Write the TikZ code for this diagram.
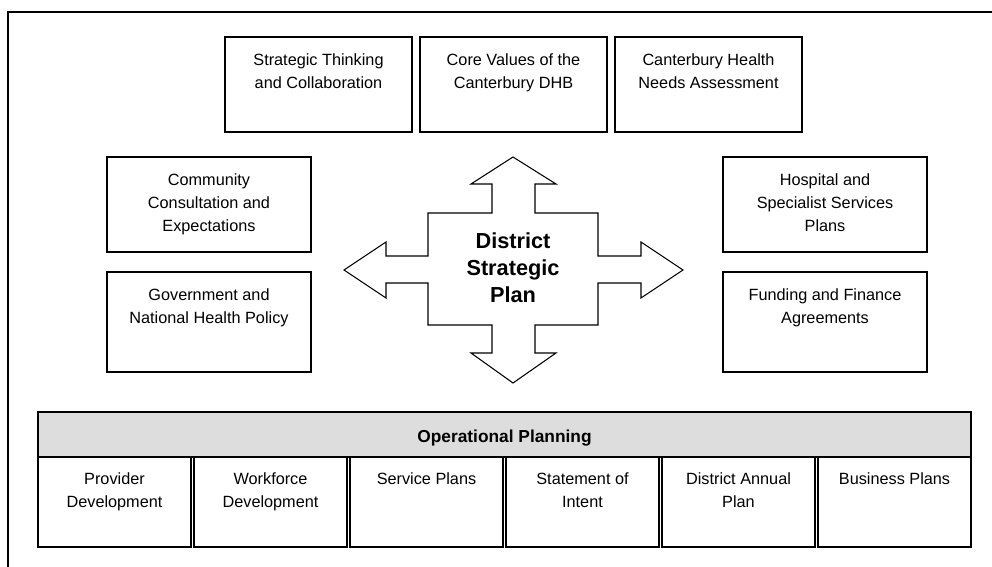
\documentclass[tikz,border=0pt]{standalone}
\usepackage{fontspec}
\setmainfont{Liberation Sans}
\usepackage{tikz}
\definecolor{hdrgray}{HTML}{DDDDDD}

\begin{document}
\begin{tikzpicture}[x=0.75pt,y=-0.75pt,
    box/.style={draw,line width=0.9pt},
    txt/.style={anchor=north,inner sep=0pt,align=center,font=\fontsize{12.2}{17.6}\selectfont}]

            % Khung ngoài
            \useasboundingbox (0,0) rectangle (992,567);
            \draw[line width=1.2pt] (8,567) -- (8,12) -- (992,12);

            % Ba ô phía trên
            \foreach \x/\name/\t in {225/stc/{Strategic Thinking\\and Collaboration},
                                     420/cvc/{Core Values of the\\Canterbury DHB},
                                     615/hna/{Canterbury Health\\Needs Assessment}} {
                \draw[box] (\x,37) rectangle ++(187,95);
                \node[txt] (\name) at ({\x+93.5},53) {\t};
            }

            % Hai ô bên trái
            \draw[box] (107,157) rectangle (311,252);
            \node[txt] (cce) at (209,173) {Community\\Consultation and\\Expectations};
            \draw[box] (107,272) rectangle (311,372);
            \node[txt] (gnh) at (209,288) {Government and\\National Health Policy};

            % Hai ô bên phải
            \draw[box] (723,157) rectangle (927,252);
            \node[txt] (hss) at (825,173) {Hospital and\\Specialist Services\\Plans};
            \draw[box] (723,272) rectangle (927,372);
            \node[txt] (ffa) at (825,288) {Funding and Finance\\Agreements};

            % Mũi tên bốn hướng ở giữa
            \draw[line width=0.8pt] (513,157) -- (556,184) -- (535,184) -- (535,213) -- (598,213)
                -- (598,256) -- (641,256) -- (641,242) -- (683,270) -- (641,298) -- (641,283)
                -- (598,283) -- (598,325) -- (535,325) -- (535,353) -- (556,353) -- (513,383)
                -- (471,353) -- (492,353) -- (492,325) -- (428,325) -- (428,283) -- (386,283)
                -- (386,298) -- (344,270) -- (386,242) -- (386,256) -- (428,256) -- (428,213)
                -- (492,213) -- (492,184) -- (471,184) -- cycle;
            \node[align=center,inner sep=0pt,font=\bfseries\fontsize{16.3}{20.3}\selectfont] (dsp) at (513,267.5) {District\\Strategic\\Plan};

            % Thanh tiêu đề
            \draw[box,fill=hdrgray] (38,412) rectangle (971,457);
            \node[anchor=base,inner sep=0pt,font=\bfseries\fontsize{13}{15.6}\selectfont] (opp) at (504.5,442) {Operational Planning};

            % Các ô kế hoạch phía dưới
            \foreach \i/\t in {0/{Provider\\Development}, 1/{Workforce\\Development}, 2/{Service Plans},
                               3/{Statement of\\Intent}, 4/{District Annual\\Plan}, 5/{Business Plans}} {
                \draw[box] ({38+156*\i},457) rectangle ++(153,90);
                \node[txt] (op\i) at ({38+156*\i+76.5},472) {\t};
            }

\end{tikzpicture}
\end{document}
